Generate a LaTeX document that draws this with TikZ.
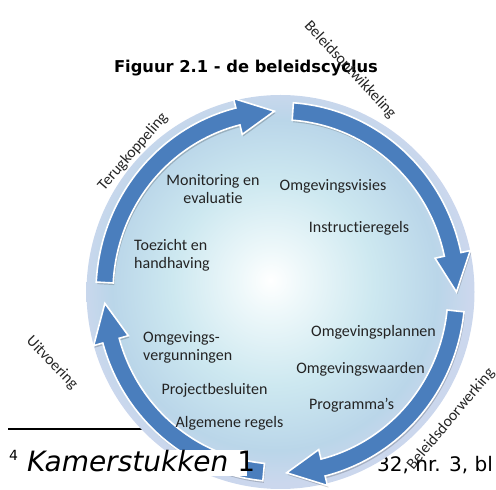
\documentclass[tikz,border=0pt]{standalone}
\usepackage{fontspec}
\setmainfont{Carlito}[Ligatures={NoCommon}]
\newfontfamily\verd{DejaVu Sans}
\definecolor{cA}{RGB}{238,248,250}
\definecolor{cB}{RGB}{205,232,240}
\definecolor{cC}{RGB}{186,214,233}
\definecolor{cD}{RGB}{203,215,237}
\definecolor{arrowblue}{RGB}{74,126,189}
\definecolor{txt}{RGB}{35,35,35}
\pgfdeclareradialshading{bgshade}{\pgfpoint{-1.3bp}{1.5bp}}{color(0bp)=(white); color(4bp)=(cA); color(13bp)=(cB); color(21bp)=(cC); color(25bp)=(cD); color(50bp)=(cD)}
\newcommand\cyclearrow[3]{%
  \pgfmathsetmacro\bs{#2+12}%
  \path[#3] (#1:184.5) arc[start angle=#1, end angle=\bs, radius=184.5]
    -- (\bs:194) -- (#2:176) -- (\bs:158) -- (\bs:167.5)
    arc[start angle=\bs, end angle=#1, radius=167.5] -- cycle;}
\tikzset{
  inner/.style={font=\fontsize{16}{18}\selectfont, text=txt, inner sep=0pt},
  side/.style={font=\fontsize{15.7}{18}\selectfont, text=black!85, inner sep=0pt},
  arrowshape/.style={fill=arrowblue, draw=white, line width=1.6pt, line join=miter},
  arrowshadow/.style={fill=black, opacity=0.18, shift={(1,-2)}},
}
\begin{document}
\begin{tikzpicture}[x=1pt,y=1pt]
\useasboundingbox (0,0) rectangle (496,490);
\clip (0,0) rectangle (496,490);
% footnote (behind circle)
\coordinate (fl1) at (8,61);
\coordinate (fl2) at (160,61);
\draw[line width=1.3pt] (fl1) -- (fl2);
\node[anchor=base west, inner sep=0pt, font=\verd\fontsize{20}{24}\selectfont] (fnright) at (377,18) {32, nr. 3, bl};
% circle
\node[circle, minimum size=10pt] (c) at (280.5,198) {};
\path[shading=bgshade] (c.center) ellipse[x radius=194, y radius=197];
\begin{scope}[shift={(280.5,198)}, yscale=1.028]
  \foreach \a/\b in {177/92, 86/0, -6/-88, -95.5/-176.4} {
    \cyclearrow{\a}{\b}{arrowshadow}
  }
  \foreach \a/\b in {177/92, 86/0, -6/-88, -95.5/-176.4} {
    \cyclearrow{\a}{\b}{arrowshape}
  }
\end{scope}
% footnote left part (over the picture, as in the page)
\fill[white] (0,14) rectangle (247,40);
\node[anchor=base west, inner sep=0pt, font=\verd\fontsize{14}{16}\selectfont] (fnnum) at (9,29) {4};
\node[anchor=base west, inner sep=0pt, font=\verd\fontsize{28}{30}\selectfont] (fnleft) at (27,18) {\textit{Kamerstukken} 1};
% inner texts
\node[inner, align=center] (mon) at (213,300.5) {Monitoring en\\evaluatie};
\node[inner, align=left, anchor=west] (toez) at (134,234.5) {Toezicht en\\handhaving};
\node[inner] (visie) at (333,304) {Omgevingsvisies};
\node[inner] (instr) at (359,262) {Instructieregels};
\node[inner, align=left, anchor=west] (verg) at (143,142.5) {Omgevings-\\vergunningen};
\node[inner] (proj) at (214.5,100) {Projectbesluiten};
\node[inner] (alg) at (229.5,67) {Algemene regels};
\node[inner] (plan) at (373.5,158) {Omgevingsplannen};
\node[inner] (waard) at (360.5,121) {Omgevingswaarden};
\node[inner] (progr) at (351.5,85) {Programma’s};
% title
\node[inner sep=0pt, font=\verd\bfseries\fontsize{16.3}{18}\selectfont] (title) at (246,422) {Figuur 2.1 - de beleidscyclus};
% side labels
\node[side, rotate=49] (terug) at (133,338) {Terugkoppeling};
\node[side, rotate=-47] (ontw) at (350,420) {Beleidsontwikkeling};
\node[side, rotate=-46] (uitv) at (52,127) {Uitvoering};
\node[side, rotate=50] (door) at (451,71) {Beleidsdoorwerking};
\end{tikzpicture}
\end{document}
